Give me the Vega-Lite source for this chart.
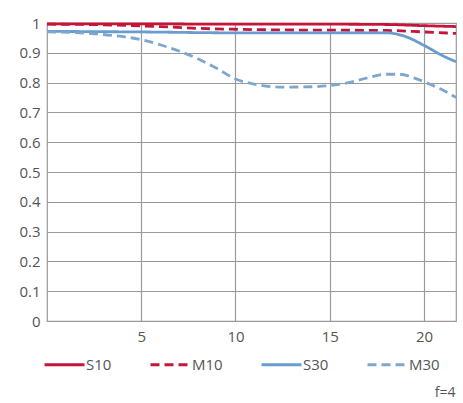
{
  "$schema": "https://vega.github.io/schema/vega-lite/v6.json",
  "width": 409,
  "height": 298,
  "autosize": {"type": "none"},
  "padding": {"left": 47, "top": 23, "right": 7, "bottom": 82},
  "background": "white",
  "config": {
    "font": "Open Sans",
    "view": {"stroke": "#9a9a9a", "strokeWidth": 1.2},
    "axis": {"labelFont": "Open Sans", "labelColor": "#555555", "labelFontSize": 15, "gridColor": "#9a9a9a", "gridWidth": 1.2, "gridOpacity": 1, "domain": false, "ticks": false, "title": null}
  },
  "title": {"text": "f=4", "orient": "bottom", "anchor": "end", "fontSize": 14, "fontWeight": "normal", "color": "#555555", "font": "Open Sans", "offset": 13, "dx": -6},
  "data": {"values": [
    {"series": "S10", "x": 0, "y": 0.997},
    {"series": "S10", "x": 5, "y": 0.997},
    {"series": "S10", "x": 10, "y": 0.996},
    {"series": "S10", "x": 15, "y": 0.996},
    {"series": "S10", "x": 18, "y": 0.995},
    {"series": "S10", "x": 20, "y": 0.991},
    {"series": "S10", "x": 21.7, "y": 0.988},
    {"series": "M10", "x": 0, "y": 0.996},
    {"series": "M10", "x": 3, "y": 0.994},
    {"series": "M10", "x": 6, "y": 0.988},
    {"series": "M10", "x": 8, "y": 0.982},
    {"series": "M10", "x": 10, "y": 0.979},
    {"series": "M10", "x": 12, "y": 0.977},
    {"series": "M10", "x": 15, "y": 0.976},
    {"series": "M10", "x": 18, "y": 0.975},
    {"series": "M10", "x": 20, "y": 0.97},
    {"series": "M10", "x": 21.7, "y": 0.965},
    {"series": "S30", "x": 0, "y": 0.972},
    {"series": "S30", "x": 5, "y": 0.97},
    {"series": "S30", "x": 10, "y": 0.967},
    {"series": "S30", "x": 15, "y": 0.967},
    {"series": "S30", "x": 18, "y": 0.967},
    {"series": "S30", "x": 19, "y": 0.955},
    {"series": "S30", "x": 20, "y": 0.925},
    {"series": "S30", "x": 21, "y": 0.89},
    {"series": "S30", "x": 21.7, "y": 0.87},
    {"series": "M30", "x": 0, "y": 0.97},
    {"series": "M30", "x": 2, "y": 0.966},
    {"series": "M30", "x": 3.5, "y": 0.958},
    {"series": "M30", "x": 5, "y": 0.944},
    {"series": "M30", "x": 6, "y": 0.927},
    {"series": "M30", "x": 7, "y": 0.906},
    {"series": "M30", "x": 8, "y": 0.88},
    {"series": "M30", "x": 9, "y": 0.848},
    {"series": "M30", "x": 10, "y": 0.812},
    {"series": "M30", "x": 11, "y": 0.795},
    {"series": "M30", "x": 12.5, "y": 0.785},
    {"series": "M30", "x": 14, "y": 0.786},
    {"series": "M30", "x": 15, "y": 0.79},
    {"series": "M30", "x": 16, "y": 0.8},
    {"series": "M30", "x": 17, "y": 0.816},
    {"series": "M30", "x": 18, "y": 0.828},
    {"series": "M30", "x": 18.7, "y": 0.828},
    {"series": "M30", "x": 19.5, "y": 0.815},
    {"series": "M30", "x": 20.3, "y": 0.795},
    {"series": "M30", "x": 21, "y": 0.775},
    {"series": "M30", "x": 21.7, "y": 0.75}
  ]},
  "mark": {"type": "line", "interpolate": "monotone", "strokeWidth": 2.8},
  "encoding": {
    "x": {"field": "x", "type": "quantitative", "scale": {"domain": [0, 21.7], "nice": false, "zero": false}, "axis": {"values": [5, 10, 15, 20], "labelPadding": 8}},
    "y": {"field": "y", "type": "quantitative", "scale": {"domain": [0, 1], "nice": false}, "axis": {"values": [0, 0.1, 0.2, 0.3, 0.4, 0.5, 0.6, 0.7, 0.8, 0.9, 1], "format": "~g", "labelPadding": 7}},
    "color": {"field": "series", "type": "nominal", "scale": {"domain": ["S10", "M10", "S30", "M30"], "range": ["#c4163a", "#c4163a", "#6a9ccf", "#7ea7d0"]},
      "legend": {"title": null, "orient": "none", "legendX": -4, "legendY": 320, "direction": "horizontal", "columns": 4, "symbolType": "stroke", "symbolSize": 1600, "symbolStrokeWidth": 3, "labelFontSize": 15, "labelColor": "#555555", "labelFont": "Open Sans", "labelOffset": 0, "columnPadding": 32}},
    "strokeDash": {"field": "series", "type": "nominal", "scale": {"domain": ["S10", "M10", "S30", "M30"], "range": [[1, 0], [9, 5], [1, 0], [9, 5]]}},
    "order": {"field": "x", "type": "quantitative"}
  }
}
